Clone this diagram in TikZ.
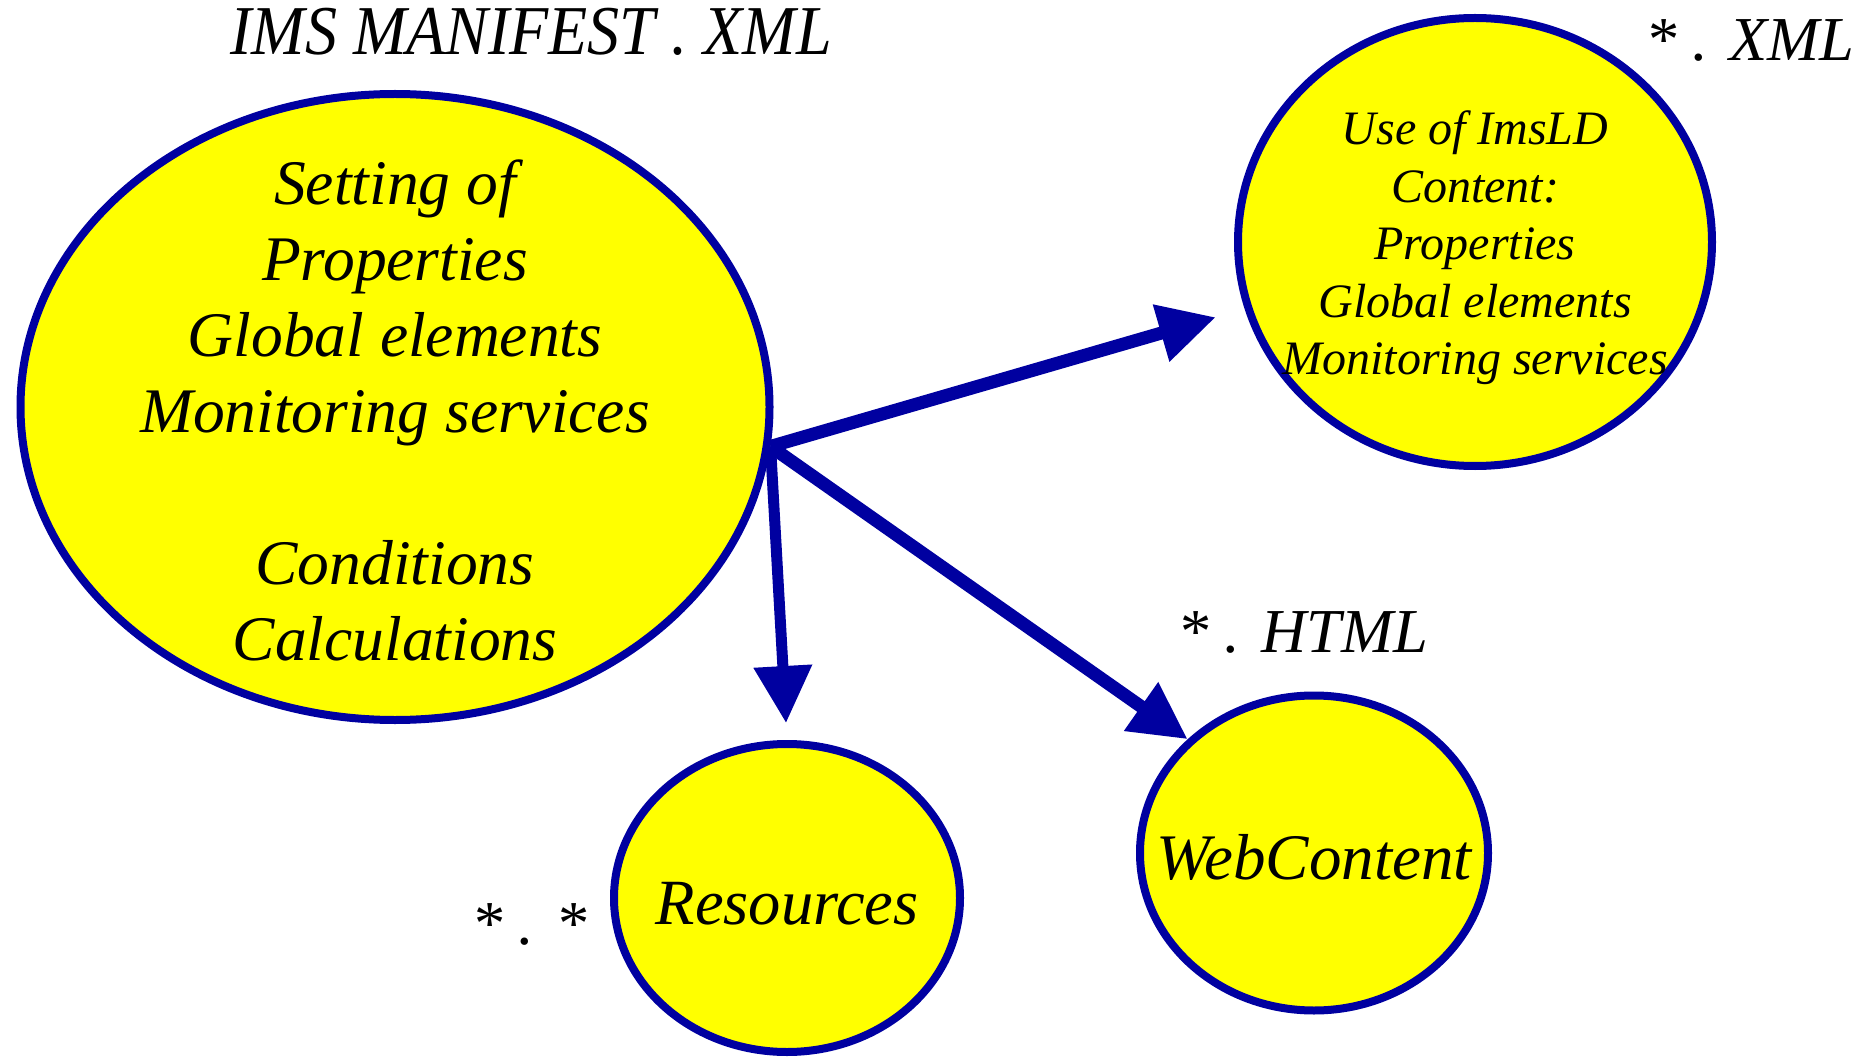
\documentclass[tikz,border=0pt]{standalone}
\usepackage{graphicx}
\usepackage{fontspec}
\setmainfont{Liberation Serif}
\usetikzlibrary{shapes.geometric,arrows.meta}
\definecolor{edgeblue}{RGB}{0,0,160}
\definecolor{fillyellow}{RGB}{255,255,0}
\tikzset{
  blob/.style={ellipse, draw=edgeblue, fill=fillyellow, line width=8pt, inner sep=0pt},
  blobtext/.style={align=center, inner sep=0pt},
  link/.style={draw=edgeblue, -{Triangle[length=57pt,width=56pt]}},
  tag/.style={anchor=base, font=\itshape\fontsize{62.5}{70}\selectfont}
}
\begin{document}
\begin{tikzpicture}[x=1pt,y=-1pt]
\useasboundingbox (0,0) rectangle (1861,1059);
\node[blob, minimum width=749pt, minimum height=626pt] (big) at (395,407) {};
\node[blob, minimum width=474pt, minimum height=448pt] (ur) at (1475,242) {};
\node[blob, minimum width=346pt, minimum height=308pt] (res) at (787,898) {};
\node[blob, minimum width=348pt, minimum height=315pt] (web) at (1314,853) {};
\node[blobtext, font=\itshape\fontsize{63.5}{76}\selectfont] (bigtext) at (395,411)
  {Setting of\\Properties\\Global elements\\Monitoring services\\[76pt]Conditions\\Calculations};
\node[blobtext, font=\itshape\fontsize{48}{57.6}\selectfont] (urtext) at (1475,248)
  {Use of ImsLD\\Content:\\Properties\\Global elements\\Monitoring services};
\node[blobtext, font=\itshape\fontsize{64.5}{70}\selectfont] (restext) at (787,904) {Resources};
\node[blobtext, font=\itshape\fontsize{65}{70}\selectfont] (webtext) at (1314,857) {WebContent};
\node[tag, font=\itshape\fontsize{70}{80}\selectfont] (title) at (531,55) {\scalebox{0.915}[1]{IMS MANIFEST . XML}};
\node[tag] (xmltag) at (1750,61) {* . XML};
\node[tag] (htmltag) at (1303,652) {* . HTML};
\node[tag] (anytag) at (529,944) {* . *};
\coordinate (o) at (big.-6.7);
\draw[link, line width=13pt, shorten >=30pt] (o) -- (ur);
\draw[link, line width=11pt, shorten >=17pt] (o) -- (res.north);
\draw[link, line width=13pt] (o) -- (web.138.4);
\end{tikzpicture}
\end{document}
